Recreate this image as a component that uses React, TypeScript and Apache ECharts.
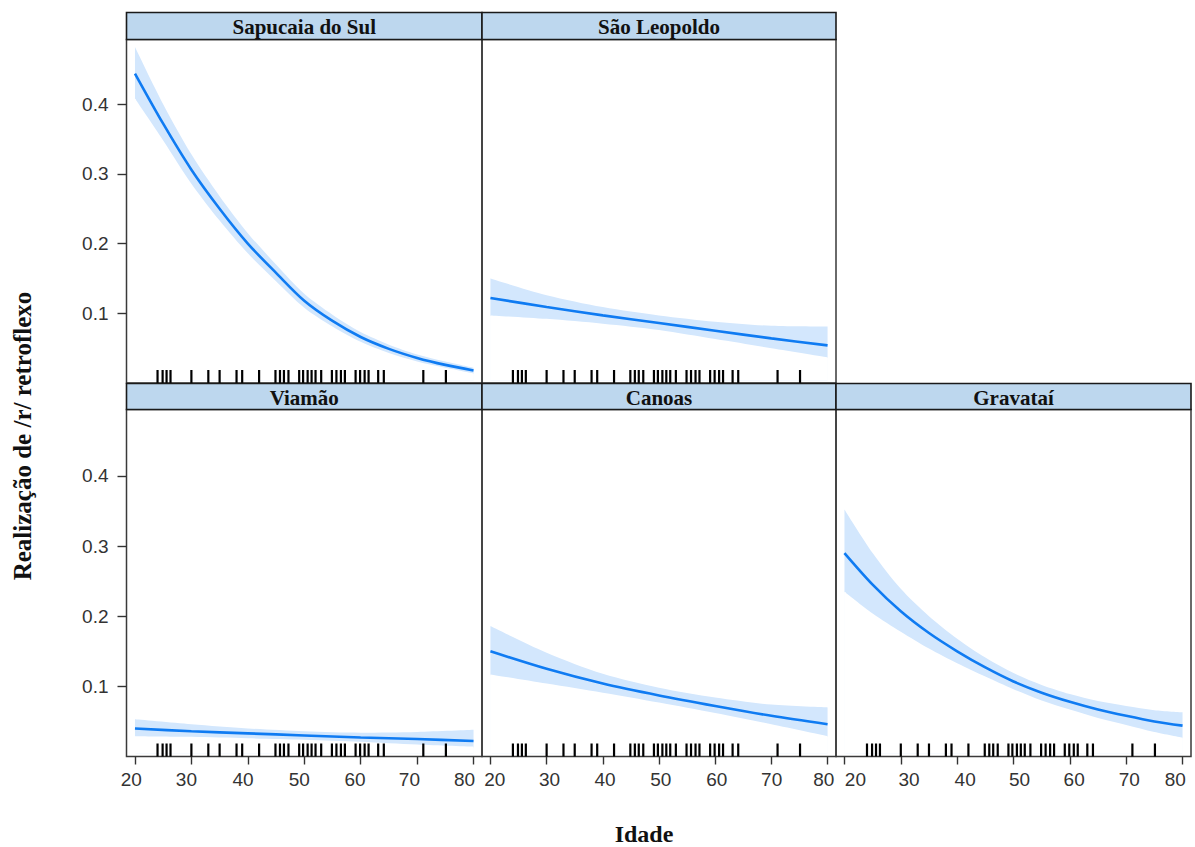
import React, { useEffect, useRef } from "react";
import * as echarts from "echarts";

// ---- data ----
const xTicks = [20, 30, 40, 50, 60, 70, 80];
const yTicks = [0.1, 0.2, 0.3, 0.4];

const panelNames = ["Sapucaia do Sul", "São Leopoldo", "Viamão", "Canoas", "Gravataí"];

const ages5 = [20, 25, 30, 35, 40, 45, 50, 55, 60, 65, 70, 75, 80];
const ages10 = [20, 30, 40, 50, 60, 70, 80];

const sapucaiaFit = [0.444, 0.372, 0.306, 0.250, 0.200, 0.158, 0.118, 0.089, 0.066, 0.049, 0.036, 0.026, 0.018];
const sapucaiaUpper = [0.482, 0.400, 0.328, 0.268, 0.215, 0.170, 0.128, 0.098, 0.073, 0.055, 0.041, 0.031, 0.022];
const sapucaiaLower = [0.408, 0.348, 0.286, 0.233, 0.186, 0.146, 0.108, 0.081, 0.059, 0.043, 0.031, 0.022, 0.014];

const leopoldoFit = [0.122, 0.109, 0.097, 0.086, 0.075, 0.064, 0.054];
const leopoldoUpper = [0.150, 0.126, 0.109, 0.097, 0.088, 0.082, 0.081];
const leopoldoLower = [0.097, 0.092, 0.085, 0.076, 0.063, 0.050, 0.037];

const viamaoFit = [0.040, 0.036, 0.033, 0.030, 0.027, 0.025, 0.022];
const viamaoUpper = [0.053, 0.046, 0.040, 0.036, 0.034, 0.035, 0.038];
const viamaoLower = [0.029, 0.028, 0.026, 0.024, 0.021, 0.017, 0.014];

const canoasFit = [0.150, 0.125, 0.104, 0.087, 0.072, 0.058, 0.046];
const canoasUpper = [0.186, 0.148, 0.118, 0.098, 0.084, 0.074, 0.070];
const canoasLower = [0.117, 0.104, 0.091, 0.077, 0.062, 0.046, 0.029];

const gravataiFit = [0.290, 0.245, 0.207, 0.176, 0.150, 0.127, 0.107, 0.091, 0.078, 0.067, 0.058, 0.050, 0.044];
const gravataiUpper = [0.352, 0.290, 0.239, 0.200, 0.168, 0.141, 0.119, 0.102, 0.089, 0.079, 0.072, 0.066, 0.063];
const gravataiLower = [0.235, 0.204, 0.178, 0.154, 0.133, 0.114, 0.096, 0.080, 0.067, 0.055, 0.045, 0.035, 0.027];

const rugAges = [
  24.0, 24.9, 25.6, 26.3, 30, 33, 35, 38, 39, 42,
  44.9, 45.7, 46.4, 47.2, 49.1, 49.8, 50.6, 51.3, 52.0, 53.0,
  54.9, 55.7, 56.5, 57.2, 59.1, 59.9, 60.7, 61.4, 63.1, 64.1, 71.1, 75.1,
];

const panelAges = [ages5, ages10, ages10, ages10, ages5];
const panelFit = [sapucaiaFit, leopoldoFit, viamaoFit, canoasFit, gravataiFit];
const panelUpper = [sapucaiaUpper, leopoldoUpper, viamaoUpper, canoasUpper, gravataiUpper];
const panelLower = [sapucaiaLower, leopoldoLower, viamaoLower, canoasLower, gravataiLower];

// ---- layout ----
// labelShift: horizontal displacement (px) of each x tick label in the reference
const layout = [
  { left: 126.5, top: 39.5, width: 355.5, height: 343.5, leftCol: true, bottomRow: false, ymax: 0.4928, labelShift: [0, 0, 0, 0, 0, 0, 0] },
  { left: 482, top: 39.5, width: 354, height: 343.5, leftCol: false, bottomRow: false, ymax: 0.4928, labelShift: [0, 0, 0, 0, 0, 0, 0] },
  { left: 126.5, top: 409.5, width: 355.5, height: 347, leftCol: true, bottomRow: true, ymax: 0.4947, labelShift: [-3.6, -5, -4.7, -5, -5.7, -7.7, -9] },
  { left: 482, top: 409.5, width: 354, height: 347, leftCol: false, bottomRow: true, ymax: 0.4947, labelShift: [4.3, 3, 2.3, 1.7, 1.6, 0.3, -3.7] },
  { left: 836, top: 409.5, width: 355, height: 347, leftCol: false, bottomRow: true, ymax: 0.4947, labelShift: [11, 8.3, 8, 6, 4.3, 3, -7.3] },
];

const LINE = "#0f7bf2";
const BAND = "#d3e7fd";
const STRIP = "#bdd7ee";
const FLOOR = 0.004;

export default function App() {
  const ref = useRef<HTMLDivElement>(null);

  useEffect(() => {
    if (!ref.current) return;
    const chart = echarts.init(ref.current, null, { renderer: "svg" });

    const series: any[] = [];
    layout.forEach((p, i) => {
      const ages = panelAges[i];
      const lower = panelLower[i];
      const first = ages[0];
      const last = ages[ages.length - 1];
      series.push({
        type: "line",
        xAxisIndex: i,
        yAxisIndex: i,
        data: ages.map((a, k) => [a, panelUpper[i][k]]),
        symbol: "none",
        smooth: 0.3,
        lineStyle: { opacity: 0, width: 0 },
        areaStyle: { color: BAND, opacity: 1, origin: FLOOR },
        silent: true,
        z: 1,
      });
      series.push({
        type: "line",
        xAxisIndex: i,
        yAxisIndex: i,
        data: ages.map((a, k) => [a, lower[k]]),
        symbol: "none",
        smooth: 0.3,
        lineStyle: { opacity: 0, width: 0 },
        areaStyle: { color: "#ffffff", opacity: 1, origin: FLOOR },
        silent: true,
        z: 2,
        markLine: {
          silent: true,
          symbol: "none",
          label: { show: false },
          lineStyle: { color: "#ffffff", width: 1.6, type: "solid" },
          data: [
            [{ coord: [first, FLOOR] }, { coord: [first, lower[0] - 0.001] }],
            [{ coord: [last, FLOOR] }, { coord: [last, lower[lower.length - 1] - 0.001] }],
          ],
        },
      });
      series.push({
        type: "line",
        xAxisIndex: i,
        yAxisIndex: i,
        data: ages.map((a, k) => [a, panelFit[i][k]]),
        symbol: "none",
        smooth: 0.3,
        lineStyle: { color: LINE, width: 2.6 },
        silent: true,
        z: 3,
      });
      series.push({
        type: "custom",
        xAxisIndex: i,
        yAxisIndex: i,
        data: rugAges.map((a) => [a, 0]),
        encode: { x: 0, y: 1 },
        silent: true,
        z: 4,
        renderItem: (_params: any, api: any) => {
          const base = api.coord([api.value(0), 0]);
          return {
            type: "line",
            shape: { x1: base[0], y1: base[1], x2: base[0], y2: base[1] - 13 },
            style: { stroke: "#000", lineWidth: 2.2 },
          };
        },
      });
    });

    const graphics: any[] = [];
    layout.forEach((p, i) => {
      const stripTop = p.bottomRow ? 383.5 : 12.5;
      const stripH = p.top - stripTop;
      graphics.push({
        type: "rect",
        shape: { x: p.left, y: stripTop, width: p.width, height: stripH },
        style: { fill: STRIP, stroke: "#1a1a1a", lineWidth: 1.6 },
        z: 10,
      });
      graphics.push({
        type: "text",
        x: p.left + p.width / 2,
        y: stripTop + stripH / 2 + 1,
        style: {
          text: panelNames[i],
          font: 'bold 21px "Liberation Serif", "Times New Roman", serif',
          fill: "#111",
          textAlign: "center",
          textVerticalAlign: "middle",
        },
        z: 11,
      });
    });
    graphics.push({
      type: "text",
      x: 22,
      y: 436,
      rotation: Math.PI / 2,
      style: {
        text: "Realização de /r/ retroflexo",
        font: 'bold 25px "Liberation Serif", "Times New Roman", serif',
        fill: "#111",
        textAlign: "center",
        textVerticalAlign: "middle",
      },
    });
    graphics.push({
      type: "text",
      x: 644,
      y: 834,
      style: {
        text: "Idade",
        font: 'bold 24px "Liberation Serif", "Times New Roman", serif',
        fill: "#111",
        textAlign: "center",
        textVerticalAlign: "middle",
      },
    });

    const labelRich = (shifts: number[]) => {
      const rich: any = {};
      shifts.forEach((d, k) => {
        rich["o" + k] = {
          padding: d >= 0 ? [0, 0, 0, 2 * d] : [0, -2 * d, 0, 0],
          fontSize: 19,
          fontFamily: '"Liberation Sans", Arial, sans-serif',
          color: "#333",
        };
      });
      return rich;
    };

    chart.setOption({
      animation: false,
      backgroundColor: "#ffffff",
      grid: layout.map((p) => ({
        left: p.left,
        top: p.top,
        width: p.width,
        height: p.height,
        show: true,
        borderColor: "#3a3a3a",
        borderWidth: 1.5,
        backgroundColor: "transparent",
      })),
      xAxis: layout.map((p, i) => ({
        type: "value",
        gridIndex: i,
        min: 18.5,
        max: 81.5,
        splitLine: { show: false },
        axisLine: { show: false },
        axisTick: {
          show: p.bottomRow,
          length: 8,
          customValues: xTicks,
          lineStyle: { color: "#333", width: 1.4 },
        },
        axisLabel: {
          show: p.bottomRow,
          customValues: xTicks,
          margin: 13,
          fontSize: 19,
          fontFamily: '"Liberation Sans", Arial, sans-serif',
          color: "#333",
          formatter: (v: number) => {
            const k = xTicks.indexOf(Math.round(v));
            return k >= 0 ? `{o${k}|${Math.round(v)}}` : String(v);
          },
          rich: labelRich(p.labelShift),
        },
      })),
      yAxis: layout.map((p, i) => ({
        type: "value",
        gridIndex: i,
        min: 0,
        max: p.ymax,
        splitLine: { show: false },
        axisLine: { show: false },
        axisTick: {
          show: p.leftCol,
          length: 9,
          customValues: yTicks,
          lineStyle: { color: "#333", width: 1.4 },
        },
        axisLabel: {
          show: p.leftCol,
          customValues: yTicks,
          margin: 18,
          fontSize: 19,
          fontFamily: '"Liberation Sans", Arial, sans-serif',
          color: "#333",
          formatter: (v: number) => v.toFixed(1),
        },
      })),
      series,
      graphic: graphics,
    });

    return () => chart.dispose();
  }, []);

  return (
    <div
      ref={ref}
      style={{ position: "fixed", left: 0, top: 0, width: 1195, height: 847, background: "#fff" }}
    />
  );
}
